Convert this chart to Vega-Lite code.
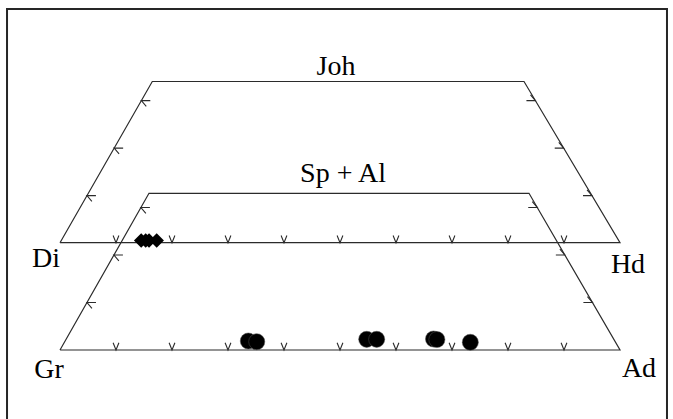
{
  "$schema": "https://vega.github.io/schema/vega-lite/v6.json",
  "width": 673,
  "height": 419,
  "autosize": {"type": "fit", "contains": "padding"},
  "padding": 0,
  "background": "white",
  "config": {"view": {"stroke": null}},
  "datasets": {
    "frame": [
      {"part": "Joh", "i": 1, "x": 0, "y": 22.59},
      {"part": "Joh", "i": 2, "x": 16.48, "y": 56.53},
      {"part": "Joh", "i": 3, "x": 82.86, "y": 56.53},
      {"part": "Joh", "i": 4, "x": 100, "y": 22.59},
      {"part": "Joh", "i": 5, "x": 0, "y": 22.59},
      {"part": "SpAl", "i": 1, "x": 0, "y": 0},
      {"part": "SpAl", "i": 2, "x": 15.89, "y": 32.99},
      {"part": "SpAl", "i": 3, "x": 83.75, "y": 32.99},
      {"part": "SpAl", "i": 4, "x": 100, "y": 0},
      {"part": "SpAl", "i": 5, "x": 0, "y": 0}
    ],
    "ticks": [
      {"side": "base", "x": 10, "y": 22.59}, {"side": "base", "x": 20, "y": 22.59}, {"side": "base", "x": 30, "y": 22.59},
      {"side": "base", "x": 40, "y": 22.59}, {"side": "base", "x": 50, "y": 22.59}, {"side": "base", "x": 60, "y": 22.59},
      {"side": "base", "x": 70, "y": 22.59}, {"side": "base", "x": 80, "y": 22.59}, {"side": "base", "x": 90, "y": 22.59},
      {"side": "base", "x": 10, "y": 0}, {"side": "base", "x": 20, "y": 0}, {"side": "base", "x": 30, "y": 0},
      {"side": "base", "x": 40, "y": 0}, {"side": "base", "x": 50, "y": 0}, {"side": "base", "x": 60, "y": 0},
      {"side": "base", "x": 70, "y": 0}, {"side": "base", "x": 80, "y": 0}, {"side": "base", "x": 90, "y": 0},
      {"side": "left", "x": 4.81, "y": 32.5}, {"side": "left", "x": 9.67, "y": 42.5}, {"side": "left", "x": 14.52, "y": 52.5},
      {"side": "left", "x": 4.82, "y": 10}, {"side": "left", "x": 9.63, "y": 20}, {"side": "left", "x": 14.45, "y": 30},
      {"side": "right", "x": 95.0, "y": 32.5}, {"side": "right", "x": 89.95, "y": 42.5}, {"side": "right", "x": 84.9, "y": 52.5},
      {"side": "right", "x": 95.07, "y": 10}, {"side": "right", "x": 90.15, "y": 20}, {"side": "right", "x": 85.22, "y": 30}
    ],
    "pyroxene": [
      {"x": 14.5, "y": 23.05},
      {"x": 15.3, "y": 23.05},
      {"x": 15.9, "y": 23.05},
      {"x": 17.27, "y": 23.05}
    ],
    "garnet": [
      {"x": 33.63, "y": 1.89},
      {"x": 35.13, "y": 1.75},
      {"x": 54.77, "y": 2.25},
      {"x": 56.55, "y": 2.25},
      {"x": 66.7, "y": 2.32},
      {"x": 67.3, "y": 2.2},
      {"x": 73.27, "y": 1.62}
    ],
    "labels": [
      {"label": "Joh", "x": 49.29, "y": 57.89},
      {"label": "Sp + Al", "x": 50.54, "y": 35.37},
      {"label": "Di", "x": -2.5, "y": 17.47},
      {"label": "Hd", "x": 101.43, "y": 16.21},
      {"label": "Gr", "x": -1.96, "y": -5.89},
      {"label": "Ad", "x": 103.39, "y": -5.58}
    ],
    "border": [
      {"x": -9.46, "x2": 108.39, "y": 71.79, "y2": -20}
    ]
  },
  "encoding": {
    "x": {"field": "x", "type": "quantitative", "scale": {"domain": [-10.714, 109.464], "nice": false, "zero": false}, "axis": null},
    "y": {"field": "y", "type": "quantitative", "scale": {"domain": [-14.526, 73.684], "nice": false, "zero": false}, "axis": null}
  },
  "layer": [
    {
      "data": {"name": "border"},
      "mark": {"type": "rect", "fill": null, "fillOpacity": 0, "stroke": "#262626", "strokeWidth": 2, "clip": true},
      "encoding": {
        "x2": {"field": "x2"},
        "y2": {"field": "y2"}
      }
    },
    {
      "data": {"name": "frame"},
      "mark": {"type": "line", "color": "#2b2b2b", "strokeWidth": 1.2},
      "encoding": {
        "detail": {"field": "part"},
        "order": {"field": "i", "type": "quantitative"}
      }
    },
    {
      "data": {"name": "ticks"},
      "transform": [{"filter": "datum.side === 'base'"}],
      "mark": {"type": "point", "filled": false, "shape": "M-0.4,-1L0,0L0.4,-1", "size": 210, "color": "#2b2b2b", "strokeWidth": 1.1, "opacity": 1}
    },
    {
      "data": {"name": "ticks"},
      "transform": [{"filter": "datum.side === 'left'"}],
      "mark": {"type": "point", "filled": false, "shape": "M1,0L0,0L0.55,0.65", "size": 324, "color": "#2b2b2b", "strokeWidth": 1.1, "opacity": 1}
    },
    {
      "data": {"name": "ticks"},
      "transform": [{"filter": "datum.side === 'right'"}],
      "mark": {"type": "point", "filled": false, "shape": "M-1,0L0,0L-0.55,-0.65", "size": 324, "color": "#2b2b2b", "strokeWidth": 1.1, "opacity": 1}
    },
    {
      "data": {"name": "pyroxene"},
      "mark": {"type": "point", "filled": true, "shape": "diamond", "size": 210, "color": "black", "opacity": 1}
    },
    {
      "data": {"name": "garnet"},
      "mark": {"type": "point", "filled": true, "shape": "circle", "size": 260, "color": "black", "opacity": 1, "stroke": "#555555", "strokeWidth": 0.5}
    },
    {
      "data": {"name": "labels"},
      "mark": {"type": "text", "font": "Liberation Serif", "fontSize": 28, "align": "center", "baseline": "alphabetic", "color": "black"},
      "encoding": {"text": {"field": "label"}}
    }
  ]
}
